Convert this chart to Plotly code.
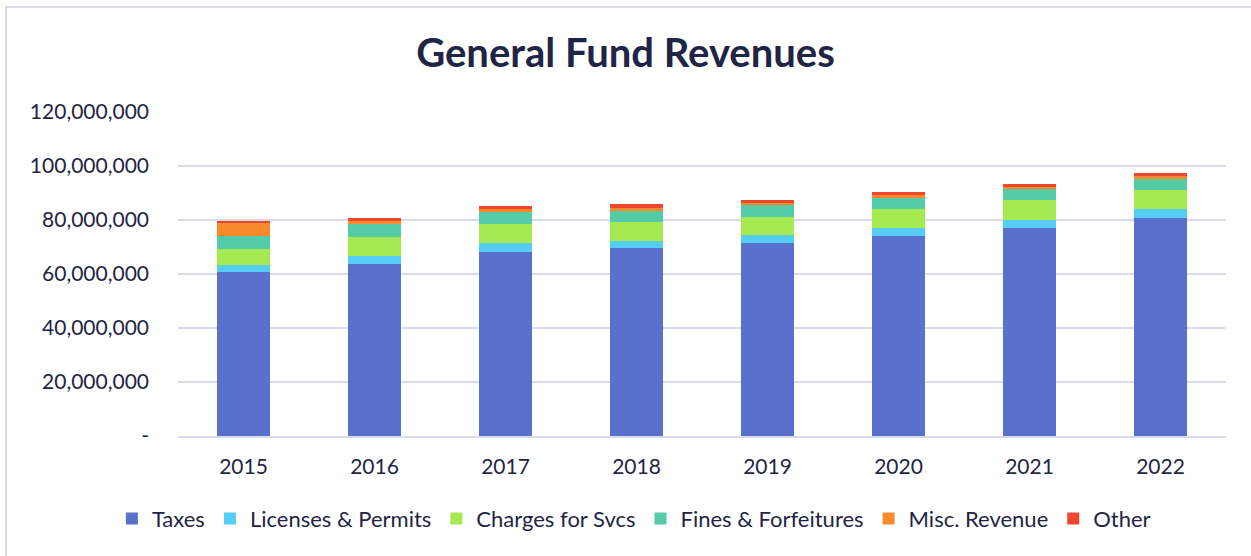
import plotly.graph_objects as go

years = ["2015", "2016", "2017", "2018", "2019", "2020", "2021", "2022"]
taxes = [60.7e6, 63.7e6, 68.1e6, 69.6e6, 71.5e6, 74.1e6, 77.0e6, 80.7e6]
licenses = [2.5e6, 3.0e6, 3.3e6, 2.5e6, 2.8e6, 2.9e6, 3.0e6, 3.3e6]
charges = [6.1e6, 7.0e6, 7.1e6, 7.2e6, 6.8e6, 7.1e6, 7.4e6, 7.1e6]
fines = [4.8e6, 4.9e6, 4.5e6, 4.0e6, 4.3e6, 4.0e6, 4.0e6, 4.1e6]
misc = [4.8e6, 1.1e6, 1.2e6, 1.1e6, 1.0e6, 1.0e6, 0.9e6, 1.1e6]
other = [0.4e6, 1.0e6, 1.0e6, 1.5e6, 1.0e6, 1.3e6, 1.0e6, 1.1e6]

series_names = ["Taxes", "Licenses & Permits", "Charges for Svcs",
                "Fines & Forfeitures", "Misc. Revenue", "Other"]
series_values = [taxes, licenses, charges, fines, misc, other]
colors = ["#5a70cd", "#55cdf5", "#a6ea52", "#55cca8", "#f88a2c", "#f0482e"]

y_tickvals = [0, 20e6, 40e6, 60e6, 80e6, 100e6, 120e6]
y_ticktext = ["-", "20,000,000", "40,000,000", "60,000,000",
              "80,000,000", "100,000,000", "120,000,000"]

TEXT = "#1f2544"
FONT = "Lato, 'Open Sans', sans-serif"

fig = go.Figure()
for name, vals, col in zip(series_names, series_values, colors):
    fig.add_trace(go.Bar(x=years, y=vals, name=name,
                         marker=dict(color=col, line=dict(width=0))))

fig.update_layout(
    barmode="stack",
    bargap=0.595,
    width=1251, height=556,
    margin=dict(l=178, r=25, t=112, b=120),
    paper_bgcolor="white", plot_bgcolor="white",
    font=dict(family=FONT, color=TEXT, size=21),
    title=dict(text="<b>General Fund Revenues</b>", x=0.5, xanchor="center",
               y=0.905, yanchor="middle", font=dict(size=40, color=TEXT, family=FONT)),
    legend=dict(orientation="h", x=0.435, xanchor="center", y=-0.255, yanchor="middle",
                font=dict(size=22, color=TEXT), traceorder="normal", itemwidth=30),
    yaxis=dict(range=[0, 120e6], tickvals=y_tickvals, ticktext=y_ticktext,
               showgrid=True, gridcolor="#d9dbec", gridwidth=1.5, zeroline=False,
               ticks="", ticklabelstandoff=28),
    xaxis=dict(showline=True, linecolor="#d9dbec", linewidth=1.5, ticks="",
               tickfont=dict(size=21), ticklabelstandoff=11),
    showlegend=True,
)
fig.add_shape(type="rect", xref="paper", yref="paper",
              x0=-0.1641, x1=1.2, y0=-0.6, y1=1.324,
              line=dict(color="#d9dbec", width=2), fillcolor="rgba(0,0,0,0)")

fig.write_html("out.html", config={"displayModeBar": False},
               post_script="document.body.style.margin='0';")
